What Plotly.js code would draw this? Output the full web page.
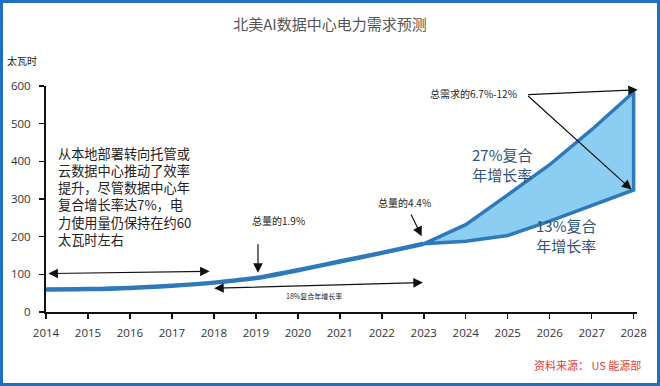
<!DOCTYPE html>
<html>
<head>
<meta charset="utf-8">
<script src="https://cdn.plot.ly/plotly-3.0.1.min.js"></script>
<style>html,body{margin:0;padding:0;background:#fff;}#chart{width:660px;height:386px;}</style>
</head>
<body>
<div id="chart"></div>
<script>
// ---- data ----
var histYears = [2014, 2015, 2016, 2017, 2018, 2019, 2020, 2021, 2022, 2023];
var histValues = [60, 61, 64, 70, 78, 90, 111, 134, 157, 181];
var forecastYears = [2023, 2024, 2025, 2026, 2027, 2028];
var highValues = [181, 232, 311, 391, 484, 584];   // 27% CAGR
var lowValues = [181, 188, 203, 241, 282, 324];    // 13% CAGR
var xTicks = [2014, 2015, 2016, 2017, 2018, 2019, 2020, 2021, 2022, 2023, 2024, 2025, 2026, 2027, 2028];
var yTicks = [0, 100, 200, 300, 400, 500, 600];

var titleText = '北美AI数据中心电力需求预测';
var unitText = '太瓦时';
var noteLines = ['从本地部署转向托管或', '云数据中心推动了效率', '提升，尽管数据中心年', '复合增长率达7%，电', '力使用量仍保持在约60', '太瓦时左右'];
var sourceText = '资料来源： US 能源部';

// ---- layout helpers ----
var W = 660, H = 386, mL = 46, mR = 23, mT = 86, mB = 74;
var pw = W - mL - mR, ph = H - mT - mB;
function px(x) { return (x - mL) / pw; }
function py(y) { return (H - mB - y) / ph; }

var lineColor = '#2e79ba';
var font = '"Noto Sans CJK SC", "Noto Sans", sans-serif';

// area polygon: upper path then lower path reversed
var areaX = forecastYears.concat(forecastYears.slice().reverse());
var areaY = highValues.concat(lowValues.slice().reverse());

var traces = [
  {
    x: areaX, y: areaY, type: 'scatter', mode: 'lines',
    fill: 'toself', fillcolor: '#8ccdf2',
    line: {color: lineColor, width: 3.5},
    hoverinfo: 'skip', showlegend: false
  },
  {
    x: histYears, y: histValues, type: 'scatter', mode: 'lines',
    line: {color: lineColor, width: 4.5, shape: 'spline', smoothing: 0.8},
    hoverinfo: 'skip', showlegend: false
  }
];

var ann = [];
function txt(t, x, y, size, color, anchor, extra) {
  var a = {text: t, xref: 'paper', yref: 'paper', x: px(x), y: py(y),
    xanchor: anchor || 'center', yanchor: 'middle', showarrow: false,
    font: {family: font, size: size, color: color}};
  if (extra) for (var k in extra) a[k] = extra[k];
  ann.push(a);
}
function arrow(x, y, ax, ay, side) {
  ann.push({x: x, y: y, ax: ax, ay: ay, xref: 'x', yref: 'y', axref: 'x', ayref: 'y',
    text: '', showarrow: true, arrowhead: 2, arrowsize: 1.6, arrowwidth: 1.2,
    arrowcolor: '#111', arrowside: side || 'end', standoff: 0, startstandoff: 0});
}

txt(unitText, 22, 60, 10, '#222');
txt(noteLines.join('<br>'), 56, 196, 13.2, '#222', 'left', {align: 'left'});
txt('总量的1.9%', 278, 221, 10, '#222');
txt('总量的4.4%', 404, 202, 10, '#222');
txt('总需求的6.7%-12%', 473, 93, 10, '#222');
txt('18%复合年增长率', 314, 296, 7, '#222');
txt('27%复合<br>年增长率', 502, 164, 15, '#2f5279');
txt('13%复合<br>年增长率', 566, 236, 15, '#2f5279');
txt(sourceText, 643, 365, 11, '#e0403f', 'right');

// arrows (data coordinates)
arrow(2017.9, 108, 2014.02, 102, 'end+start');
arrow(2022.98, 78, 2017.97, 63, 'end+start');
arrow(2019.05, 104, 2019.05, 184);
arrow(2022.95, 201, 2022.68, 263);
arrow(2028.1, 590, 2025.45, 577);
arrow(2027.95, 325, 2025.45, 577);

var layout = {
  width: W, height: H,
  margin: {l: mL, r: mR, t: mT, b: mB, pad: 0},
  paper_bgcolor: '#ffffff', plot_bgcolor: '#ffffff',
  title: {text: titleText, x: 0.5, xanchor: 'center', y: 1 - 25 / H, yanchor: 'middle',
    font: {family: font, size: 15, color: '#555'}},
  xaxis: {
    range: [2014, 2028.08], tickvals: xTicks, ticktext: xTicks.map(String),
    showgrid: false, zeroline: false, showline: true, linecolor: '#111', linewidth: 2,
    ticks: 'outside', ticklen: 5, tickwidth: 1.5, tickcolor: '#111',
    ticklabelstandoff: 4,
    tickfont: {family: '"Open Sans", sans-serif', size: 11.5, color: '#333'}
  },
  yaxis: {
    range: [0, 600], tickvals: yTicks, ticktext: yTicks.map(String),
    showgrid: false, zeroline: false, showline: true, linecolor: '#111', linewidth: 2,
    ticks: 'outside', ticklen: 5, tickwidth: 1.5, tickcolor: '#111',
    ticklabelstandoff: 6,
    tickfont: {family: '"Open Sans", sans-serif', size: 11.5, color: '#333'}
  },
  annotations: ann,
  shapes: [{type: 'rect', xref: 'paper', yref: 'paper',
    x0: px(1.5), x1: px(W - 1.5), y0: py(H - 1.5), y1: py(1.5),
    line: {color: '#1f6fbf', width: 3}, fillcolor: 'rgba(0,0,0,0)', layer: 'below'}],
  showlegend: false
};

Plotly.newPlot('chart', traces, layout, {displayModeBar: false, staticPlot: true});
</script>
</body>
</html>
